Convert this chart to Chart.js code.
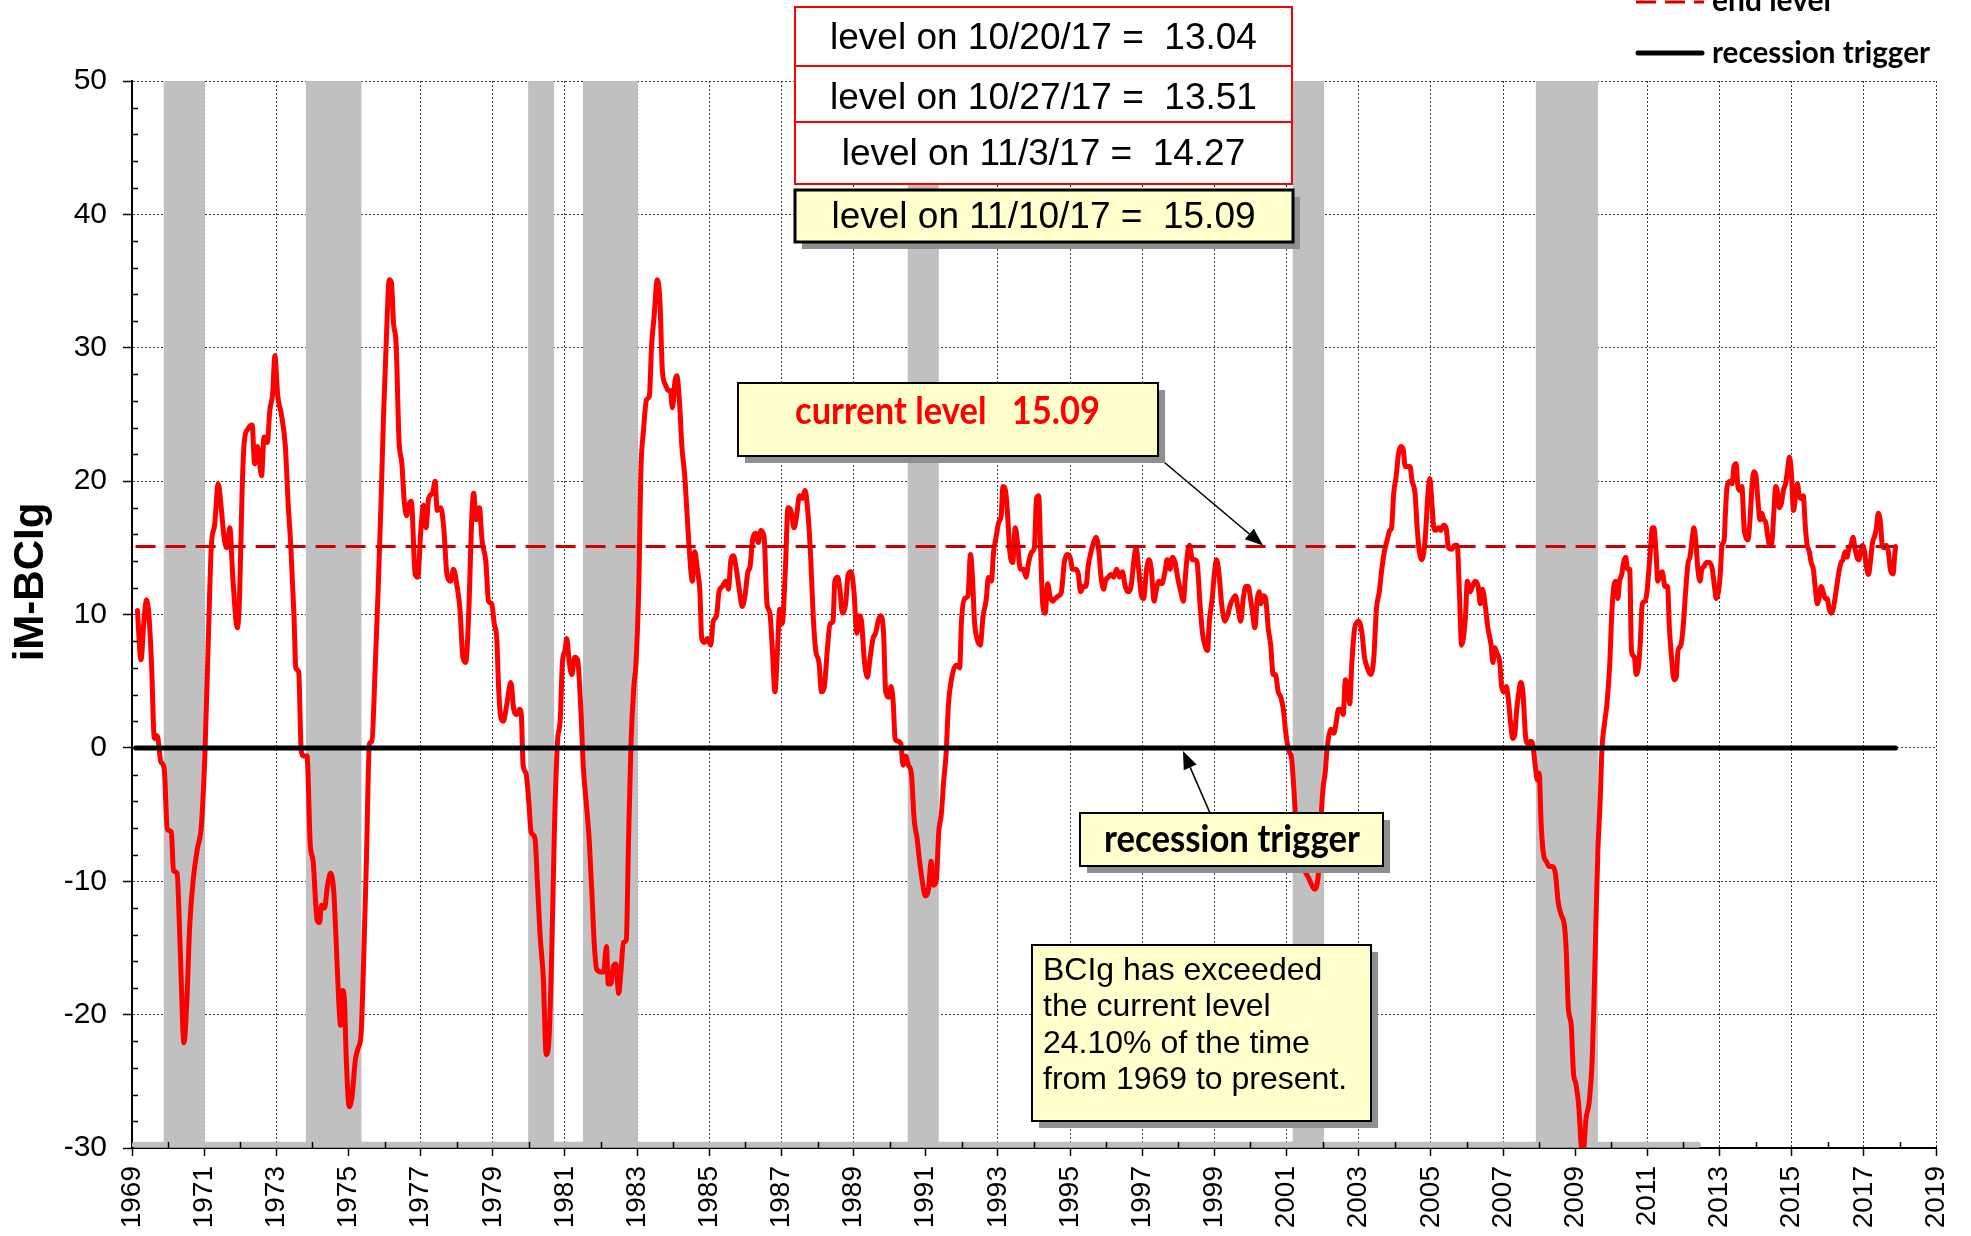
<!DOCTYPE html>
<html>
<head>
<meta charset="utf-8">
<script src="https://cdn.jsdelivr.net/npm/chart.js@4.4.1/dist/chart.umd.min.js"></script>
<style>
html,body{margin:0;padding:0;background:#fff;}
#wrap{position:relative;width:1971px;height:1236px;overflow:hidden;background:#fff;}
#c{position:absolute;left:0;top:0;}
#ov{position:absolute;left:0;top:0;pointer-events:none;}
</style>
</head>
<body>
<div id="wrap">
<canvas id="c" width="1971" height="1236"></canvas>
<svg id="ov" width="1971" height="1236" xmlns="http://www.w3.org/2000/svg">
  <!-- y axis title -->
  <text x="0" y="0" transform="translate(43,582) rotate(-90)" text-anchor="middle" font-family="Liberation Sans, Arial, sans-serif" font-weight="bold" font-size="42" fill="#000">iM-BCIg</text>

  <!-- legend -->
  <line x1="1636" y1="2" x2="1704" y2="2" stroke="#d00000" stroke-width="3" stroke-dasharray="20 9"/>
  <text x="1712" y="11" font-family="Lato, sans-serif" font-weight="bold" font-size="31" fill="#000" textLength="119" lengthAdjust="spacingAndGlyphs">end level</text>
  <line x1="1638" y1="53" x2="1702" y2="53" stroke="#000" stroke-width="5" stroke-linecap="round"/>
  <text x="1712" y="63" font-family="Lato, sans-serif" font-weight="bold" font-size="31" fill="#000" textLength="218" lengthAdjust="spacingAndGlyphs">recession trigger</text>

  <!-- weekly level boxes -->
  <rect x="795" y="7" width="497" height="59" fill="#fff" stroke="#ff0000" stroke-width="2"/>
  <rect x="795" y="66" width="497" height="56" fill="#fff" stroke="#ff0000" stroke-width="2"/>
  <rect x="795" y="122" width="497" height="62" fill="#fff" stroke="#ff0000" stroke-width="2"/>
  <g font-family="Liberation Sans, Arial, sans-serif" font-size="37" fill="#000" text-anchor="middle" style="white-space:pre">
    <text x="1043.5" y="49" xml:space="preserve">level on 10/20/17 =  13.04</text>
    <text x="1043.5" y="109" xml:space="preserve">level on 10/27/17 =  13.51</text>
    <text x="1043.5" y="165" xml:space="preserve">level on 11/3/17 =  14.27</text>
  </g>
  <rect x="802" y="197" width="498" height="52" fill="#8f8f8f"/>
  <rect x="795" y="190" width="498" height="52" fill="#ffffcc" stroke="#000" stroke-width="3"/>
  <text x="1043.5" y="228" xml:space="preserve" style="white-space:pre" font-family="Liberation Sans, Arial, sans-serif" font-size="37" fill="#000" text-anchor="middle">level on 11/10/17 =  15.09</text>

  <!-- current level box -->
  <rect x="745" y="390" width="420" height="73" fill="#8f8f8f"/>
  <rect x="738" y="383" width="420" height="73" fill="#ffffcc" stroke="#000" stroke-width="2"/>
  <text x="795" y="424" xml:space="preserve" style="white-space:pre" font-family="Lato, sans-serif" font-weight="bold" font-size="38" fill="#ff0000" textLength="305" lengthAdjust="spacingAndGlyphs">current level   15.09</text>

  <!-- recession trigger box -->
  <rect x="1087" y="820" width="303" height="53" fill="#8f8f8f"/>
  <rect x="1080" y="813" width="303" height="53" fill="#ffffcc" stroke="#000" stroke-width="2"/>
  <text x="1104" y="852" font-family="Lato, sans-serif" font-weight="bold" font-size="38" fill="#000" textLength="256" lengthAdjust="spacingAndGlyphs">recession trigger</text>

  <!-- BCIg box -->
  <rect x="1039" y="952" width="339" height="176" fill="#8f8f8f"/>
  <rect x="1032" y="945" width="339" height="176" fill="#ffffcc" stroke="#000" stroke-width="2"/>
  <g font-family="Liberation Sans, Arial, sans-serif" font-size="32" fill="#000">
    <text x="1043" y="980">BCIg has exceeded</text>
    <text x="1043" y="1016">the current level</text>
    <text x="1043" y="1053">24.10% of the time</text>
    <text x="1043" y="1089">from 1969 to present.</text>
  </g>
</svg>
</div>
<script>
// ---------------- DATA ----------------
const years = [
1969.15,1969.25,1969.33,1969.40,1969.47,1969.54,1969.62,1969.70,1969.80,1969.89,1969.98,1970.09,1970.15,1970.25,1970.33,1970.44,1970.52,1970.60,1970.70,1970.81,1970.92,
1971.02,1971.13,1971.20,1971.29,1971.39,1971.48,1971.55,1971.63,1971.71,1971.80,1971.92,1971.98,1972.05,1972.11,1972.21,1972.33,1972.40,1972.48,1972.59,1972.66,1972.75,1972.82,1972.90,1972.96,
1973.04,1973.14,1973.25,1973.33,1973.40,1973.49,1973.54,1973.62,1973.69,1973.75,1973.85,1973.94,1974.02,1974.13,1974.20,1974.25,1974.34,1974.41,1974.50,1974.59,1974.66,1974.73,1974.78,1974.84,1974.89,1974.94,
1975.02,1975.10,1975.19,1975.27,1975.35,1975.42,1975.50,1975.58,1975.65,1975.74,1975.82,1975.90,1975.97,1976.06,1976.13,1976.19,1976.25,1976.32,1976.40,1976.48,1976.54,1976.61,1976.67,1976.74,1976.85,1976.92,
1977.01,1977.08,1977.15,1977.22,1977.33,1977.40,1977.46,1977.56,1977.64,1977.73,1977.83,1977.91,1978.01,1978.09,1978.17,1978.25,1978.33,1978.42,1978.47,1978.54,1978.63,1978.70,1978.81,1978.88,1978.97,
1979.04,1979.11,1979.16,1979.21,1979.29,1979.39,1979.50,1979.58,1979.66,1979.74,1979.79,1979.84,1979.92,1980.00,1980.06,1980.17,1980.24,1980.31,1980.40,1980.48,1980.56,1980.64,1980.71,1980.79,1980.87,1980.93,
1981.00,1981.05,1981.12,1981.19,1981.27,1981.35,1981.44,1981.51,1981.59,1981.67,1981.75,1981.81,1981.88,1982.00,1982.07,1982.15,1982.20,1982.27,1982.34,1982.41,1982.49,1982.55,1982.62,1982.70,1982.76,1982.83,1982.91,1982.97,
1983.05,1983.10,1983.18,1983.26,1983.34,1983.40,1983.47,1983.56,1983.63,1983.70,1983.79,1983.86,1983.92,1983.98,1984.05,1984.10,1984.18,1984.24,1984.32,1984.37,1984.45,1984.53,1984.60,1984.67,1984.74,1984.79,1984.87,1984.95,
1985.04,1985.11,1985.20,1985.27,1985.36,1985.46,1985.53,1985.60,1985.67,1985.75,1985.84,1985.91,1985.99,1986.07,1986.13,1986.20,1986.28,1986.36,1986.43,1986.52,1986.60,1986.68,1986.75,1986.82,1986.89,1986.95,
1987.02,1987.11,1987.18,1987.26,1987.35,1987.42,1987.50,1987.58,1987.65,1987.74,1987.81,1987.88,1987.95,1988.04,1988.11,1988.19,1988.27,1988.35,1988.43,1988.48,1988.56,1988.62,1988.69,1988.78,1988.85,1988.93,
1989.01,1989.09,1989.15,1989.22,1989.29,1989.38,1989.46,1989.54,1989.61,1989.68,1989.75,1989.83,1989.89,1989.97,1990.04,1990.10,1990.15,1990.23,1990.31,1990.37,1990.44,1990.52,1990.60,1990.68,1990.76,1990.83,1990.92,1990.99,
1991.07,1991.15,1991.21,1991.29,1991.36,1991.43,1991.50,1991.56,1991.63,1991.71,1991.79,1991.87,1991.94,1991.99,1992.08,1992.17,1992.24,1992.30,1992.35,1992.42,1992.51,1992.59,1992.67,1992.74,1992.82,1992.88,1992.95,
1993.02,1993.09,1993.14,1993.22,1993.27,1993.33,1993.41,1993.48,1993.55,1993.62,1993.71,1993.78,1993.85,1993.94,1994.01,1994.07,1994.13,1994.18,1994.24,1994.31,1994.38,1994.44,1994.52,1994.59,1994.68,1994.76,1994.84,1994.91,
1995.00,1995.07,1995.16,1995.23,1995.29,1995.37,1995.44,1995.50,1995.58,1995.65,1995.72,1995.80,1995.85,1995.93,1995.98,1996.06,1996.13,1996.21,1996.29,1996.37,1996.45,1996.53,1996.61,1996.69,1996.77,1996.83,1996.90,1996.98,
1997.04,1997.12,1997.19,1997.25,1997.33,1997.38,1997.46,1997.54,1997.63,1997.69,1997.77,1997.84,1997.91,1997.98,1998.07,1998.14,1998.20,1998.26,1998.31,1998.39,1998.46,1998.52,1998.60,1998.67,1998.76,1998.81,1998.86,1998.94,1998.99,
1999.06,1999.13,1999.20,1999.29,1999.36,1999.45,1999.52,1999.58,1999.66,1999.73,1999.80,1999.87,1999.94,2000.01,2000.06,2000.12,2000.19,2000.24,2000.29,2000.35,2000.42,2000.49,2000.56,2000.63,2000.69,2000.77,2000.84,2000.91,2000.98,
2001.06,2001.14,2001.20,2001.28,2001.38,2001.50,2001.62,2001.72,2001.78,2001.85,2001.92,2001.97,2002.02,2002.07,2002.12,2002.23,2002.31,2002.38,2002.44,2002.52,2002.57,2002.63,2002.70,2002.75,2002.81,2002.89,
2003.00,2003.09,2003.16,2003.24,2003.33,2003.42,2003.49,2003.57,2003.64,2003.71,2003.79,2003.86,2003.91,2003.97,2004.04,2004.10,2004.16,2004.23,2004.29,2004.37,2004.42,2004.48,2004.56,2004.62,2004.68,2004.75,2004.84,2004.92,2004.97,
2005.02,2005.08,2005.13,2005.21,2005.27,2005.35,2005.42,2005.49,2005.58,2005.66,2005.73,2005.79,2005.85,2005.90,2005.96,2006.01,2006.09,2006.15,2006.23,2006.31,2006.37,2006.43,2006.51,2006.58,2006.67,2006.72,2006.77,2006.83,2006.91,2006.96,
2007.03,2007.09,2007.14,2007.22,2007.27,2007.33,2007.38,2007.44,2007.49,2007.55,2007.63,2007.69,2007.77,2007.82,2007.90,2007.95,2008.00,2008.06,2008.13,2008.20,2008.28,2008.37,2008.45,2008.53,2008.61,2008.70,2008.75,2008.81,2008.89,2008.95,
2009.02,2009.10,2009.16,2009.22,2009.30,2009.39,2009.47,2009.52,2009.58,2009.63,2009.69,2009.74,2009.82,2009.88,2009.96,2010.01,2010.07,2010.12,2010.18,2010.23,2010.29,2010.34,2010.40,2010.45,2010.51,2010.56,2010.64,2010.69,2010.75,2010.80,2010.86,2010.94,2010.99,
2011.07,2011.14,2011.18,2011.24,2011.29,2011.36,2011.41,2011.49,2011.56,2011.61,2011.67,2011.74,2011.80,2011.85,2011.93,2011.99,2012.06,2012.13,2012.18,2012.24,2012.29,2012.35,2012.40,2012.46,2012.51,2012.57,2012.64,2012.72,2012.80,2012.86,2012.91,2012.97,
2013.02,2013.07,2013.13,2013.16,2013.21,2013.29,2013.35,2013.40,2013.46,2013.51,2013.57,2013.62,2013.68,2013.73,2013.79,2013.84,2013.90,2013.95,2014.01,2014.06,2014.12,2014.17,2014.23,2014.28,2014.34,2014.39,2014.45,2014.50,2014.56,2014.61,2014.66,2014.72,2014.77,2014.83,2014.88,2014.94,2014.99,
2015.05,2015.10,2015.16,2015.21,2015.27,2015.32,2015.38,2015.43,2015.49,2015.54,2015.60,2015.65,2015.71,2015.76,2015.82,2015.87,2015.93,2015.98,2016.04,2016.09,2016.15,2016.20,2016.26,2016.31,2016.37,2016.42,2016.48,2016.53,2016.59,2016.64,2016.70,2016.75,2016.81,2016.86,2016.91,2016.96,
2017.02,2017.07,2017.13,2017.18,2017.24,2017.29,2017.35,2017.40,2017.46,2017.51,2017.57,2017.62,2017.68,2017.74,2017.81,2017.83,2017.85,2017.88
];
const bcig = [
10.3,6.6,9.5,11.1,9.9,6.4,0.7,0.9,-1.05,-1.5,-6.1,-6.3,-9.2,-9.4,-14.6,-22.1,-19.0,-13.3,-9.8,-7.6,-5.9,
-0.6,9.5,15.2,16.7,19.8,17.8,15.8,15.0,16.5,12.5,9.0,11.2,19.1,22.9,23.9,24.2,21.3,22.6,20.4,23.3,22.9,25.3,26.6,29.4,
26.4,25.0,22.6,18.2,15.2,9.9,6.0,5.7,-0.2,-0.6,-0.6,-7.2,-8.5,-12.9,-13.1,-11.8,-12.0,-10.5,-9.4,-10.7,-14.6,-19.0,-20.8,-18.2,-19.0,-23.4,
-26.9,-26.1,-23.4,-22.5,-21.4,-16.0,-8.1,0.3,0.5,6.0,11.7,18.2,24.8,31.4,35.1,34.9,31.8,30.3,23.1,21.3,18.7,17.4,18.2,18.5,13.0,12.8,
16.5,18.2,16.5,18.7,19.1,20.0,17.8,18.0,16.5,13.0,12.5,13.4,12.1,10.4,6.8,6.4,9.9,17.4,19.1,17.1,18.0,15.6,13.9,11.0,10.8,
9.3,8.2,4.6,2.5,2.0,3.3,4.9,2.9,2.5,2.9,2.5,-1.3,-1.9,-4.1,-6.3,-6.8,-10.3,-14.0,-17.3,-23.0,-21.7,-14.6,-5.9,0.3,2.2,6.4,
7.3,8.2,6.4,5.5,6.8,6.6,2.9,-1.5,-4.1,-6.8,-11.1,-14.6,-16.6,-16.8,-16.8,-14.9,-17.7,-17.7,-16.4,-16.2,-18.4,-16.8,-14.6,-14.4,-7.2,0.3,4.6,6.4,
12.5,20.4,23.9,26.1,26.4,30.1,32.3,35.1,33.6,28.3,27.2,26.8,26.8,25.5,27.5,27.9,25.7,22.6,20.4,18.2,14.7,12.5,14.7,13.4,11.7,8.2,7.9,8.2,
7.7,9.5,9.9,11.7,12.1,12.5,11.9,14.1,14.4,13.4,11.7,10.6,11.4,13.2,13.6,15.6,16.1,15.4,16.3,15.8,10.8,10.1,7.3,4.2,7.3,10.4,
9.3,13.4,18.0,17.8,16.5,17.4,18.9,18.7,19.3,17.4,14.3,9.9,7.3,6.4,4.2,4.6,7.3,9.3,9.5,12.5,12.8,11.9,10.1,10.8,13.0,13.2,
11.7,8.6,9.9,9.5,6.8,5.3,6.8,8.2,8.6,9.5,9.9,8.6,4.2,3.8,4.6,3.3,0.7,0.5,0.3,-1.3,-0.6,-1.3,-1.9,-5.4,-6.8,-8.5,-10.3,-11.1,
-10.7,-8.5,-10.3,-10.0,-6.3,-5.0,-2.4,-0.6,3.3,5.1,6.0,6.2,6.0,9.5,11.2,11.4,14.5,12.5,9.5,8.2,7.7,9.9,11.0,12.8,12.5,14.7,15.8,
16.9,17.4,19.6,19.1,17.4,14.7,13.9,16.5,15.2,13.4,13.4,12.8,13.9,14.7,15.0,18.7,18.9,15.2,10.8,10.1,12.3,11.4,11.0,11.2,11.4,11.7,13.9,14.5,
14.3,13.4,13.4,13.0,11.7,12.1,12.1,13.6,14.7,15.4,15.8,14.7,13.0,11.9,12.5,12.8,13.0,12.8,13.4,12.8,13.2,12.1,11.7,12.1,14.1,15.0,13.4,11.4,
11.2,13.4,14.1,13.4,11.0,11.7,12.5,12.3,13.2,14.1,13.4,14.3,13.9,12.8,11.7,11.0,13.0,14.7,15.2,14.1,14.1,13.9,10.8,8.6,7.5,7.3,9.5,11.2,12.8,
14.1,13.0,10.8,9.5,9.9,10.8,11.2,11.4,10.4,9.5,11.2,12.1,12.1,11.0,10.1,9.0,11.2,11.7,10.8,11.4,11.2,9.0,7.7,5.5,5.5,4.2,3.8,2.9,1.1,
-0.2,-0.8,-3.0,-6.5,-8.5,-9.2,-9.8,-10.4,-10.6,-10.2,-8.0,-4.6,-2.8,-1.9,-0.2,1.4,1.1,2.0,2.9,2.9,2.5,5.1,4.6,3.3,6.4,9.0,
9.5,8.6,6.8,6.0,5.5,6.8,10.4,11.7,13.4,14.7,15.6,16.3,16.5,19.1,20.4,22.0,22.6,22.4,21.1,21.1,21.1,20.0,19.1,16.5,14.7,14.1,15.6,19.1,20.2,
18.7,16.5,16.3,16.5,16.3,16.7,16.5,15.0,14.9,15.2,15.2,11.7,7.7,8.2,9.9,12.5,11.7,12.1,12.5,12.1,10.8,11.9,10.6,9.0,7.7,6.4,7.5,7.1,6.4,4.6,
4.2,4.6,3.8,1.6,0.7,1.1,2.9,4.2,4.9,4.2,0.7,0.3,0.5,0.3,-1.5,-2.4,-1.9,-5.9,-8.1,-8.5,-8.9,-8.9,-9.4,-11.6,-12.5,-13.3,-15.1,-19.5,-20.8,-24.3,
-25.2,-26.9,-29.6,-30.3,-27.8,-26.5,-23.4,-19.0,-12.5,-7.6,-4.1,-0.2,2.0,3.3,6.4,9.9,12.1,12.5,11.2,12.5,13.0,13.9,14.3,13.4,13.4,7.3,6.8,5.5,6.0,7.7,10.8,11.0,11.7,
14.3,16.5,16.5,14.7,12.5,13.0,13.2,12.1,12.1,9.0,6.8,5.1,5.3,7.3,7.7,9.0,11.7,13.9,14.3,15.6,16.5,15.2,13.4,12.5,13.4,13.6,13.9,13.9,13.4,12.1,11.2,11.7,
13.0,15.2,15.6,17.4,19.6,20.0,19.8,21.1,21.3,19.6,19.3,19.6,16.5,15.8,15.6,16.9,19.6,20.7,20.4,18.7,17.1,17.6,17.1,16.9,15.8,15.2,15.4,17.4,19.6,19.1,18.0,18.4,19.3,19.8,20.7,21.8,20.7,
17.8,18.7,19.8,18.9,18.7,18.9,16.5,15.2,14.7,13.9,13.4,12.1,10.8,11.2,12.1,11.7,11.2,11.2,10.4,10.1,10.4,11.2,12.3,13.2,13.9,14.1,14.7,14.3,15.0,15.2,15.8,15.0,14.3,14.1,14.7,15.2,
14.7,13.6,13.0,13.9,15.4,15.8,16.5,17.6,16.9,15.2,15.0,15.2,14.7,13.3,13.04,13.51,14.27,15.09
];
const endLevel = 15.09;
const triggerLevel = 0;
const lineStart = 1969.1, lineEnd = 2017.88;
const bandEnd = 2012.4;
const recessionStart = [1969.88, 1973.82, 1979.98, 1981.50, 1990.50, 2001.17, 2007.91];
const recessionEnd   = [1971.02, 1975.36, 1980.70, 1983.02, 1991.36, 2002.04, 2009.63];
const xTickYears = [1969,1971,1973,1975,1977,1979,1981,1983,1985,1987,1989,1991,1993,1995,1997,1999,2001,2003,2005,2007,2009,2011,2013,2015,2017,2019];
const yTickValues = [-30,-20,-10,0,10,20,30,40,50];

// ---------------- CHART ----------------
const series = years.map((t, i) => ({x: t, y: bcig[i]}));

function arrow(ctx, x0, y0, x1, y1) {
  const ang = Math.atan2(y1 - y0, x1 - x0);
  const L = 18, W = 7;
  const bx = x1 - L * Math.cos(ang), by = y1 - L * Math.sin(ang);
  ctx.beginPath();
  ctx.moveTo(x0, y0); ctx.lineTo(bx, by);
  ctx.stroke();
  ctx.beginPath();
  ctx.moveTo(x1, y1);
  ctx.lineTo(bx + W * Math.sin(ang), by - W * Math.cos(ang));
  ctx.lineTo(bx - W * Math.sin(ang), by + W * Math.cos(ang));
  ctx.closePath();
  ctx.fill();
}

const decor = {
  id: 'decor',
  beforeDatasetsDraw(chart) {
    const {ctx, chartArea: a, scales: {x, y}} = chart;
    ctx.save();
    ctx.fillStyle = '#c0c0c0';
    const bot = y.getPixelForValue(-29.6);
    for (let i = 0; i < recessionStart.length; i++) {
      const x0 = x.getPixelForValue(recessionStart[i]);
      const x1 = x.getPixelForValue(recessionEnd[i]);
      ctx.fillRect(x0, a.top, x1 - x0, bot - a.top);
    }
    ctx.restore();
  },
  afterDatasetsDraw(chart) {
    const {ctx, chartArea: a, scales: {x, y}} = chart;
    ctx.save();
    ctx.strokeStyle = '#000';
    ctx.lineWidth = 1.5;
    ctx.beginPath();
    for (let yr = 1970; yr <= 2018; yr += 2) {
      const px = Math.round(x.getPixelForValue(yr)) + 0.5;
      ctx.moveTo(px, a.bottom); ctx.lineTo(px, a.bottom - 6);
    }
    for (let v = -28; v < 50; v += 2) {
      if (v % 10 === 0) continue;
      const py = Math.round(y.getPixelForValue(v)) + 0.5;
      ctx.moveTo(a.left, py); ctx.lineTo(a.left + 6, py);
    }
    ctx.stroke();
    ctx.restore();
  },
  afterDraw(chart) {
    const {ctx, scales: {x, y}} = chart;
    ctx.save();
    ctx.strokeStyle = '#000';
    ctx.fillStyle = '#000';
    ctx.lineWidth = 1.6;
    arrow(ctx, 1158, 457, x.getPixelForValue(2000.35), y.getPixelForValue(endLevel) - 1);
    arrow(ctx, 1210, 813, x.getPixelForValue(1998.13), y.getPixelForValue(triggerLevel) + 3);
    ctx.restore();
  }
};

const axisFont = {family: '"Liberation Sans", Arial, sans-serif'};

new Chart(document.getElementById('c'), {
  type: 'line',
  data: {
    datasets: [
      {label: 'recession trigger', data: [{x: lineStart, y: triggerLevel}, {x: lineEnd, y: triggerLevel}],
       borderColor: '#000', borderWidth: 5, borderCapStyle: 'round', pointRadius: 0},
      {label: 'end level', data: [{x: lineStart, y: endLevel}, {x: lineEnd, y: endLevel}],
       borderColor: '#d00000', borderWidth: 3, borderDash: [20, 10], pointRadius: 0},
      {label: 'iM-BCIg', data: series, borderColor: '#ff0000', borderWidth: 5, pointRadius: 0,
       cubicInterpolationMode: 'monotone', borderJoinStyle: 'round', borderCapStyle: 'round'},
      {label: 'band', data: [{x: 1969.08, y: -29.75}, {x: bandEnd, y: -29.75}],
       borderColor: '#c0c0c0', borderWidth: 6, borderCapStyle: 'round', pointRadius: 0}
    ]
  },
  options: {
    responsive: false,
    animation: false,
    devicePixelRatio: 1,
    layout: {padding: {top: 81, right: 35, left: 0, bottom: 0}},
    plugins: {legend: {display: false}, tooltip: {enabled: false}, title: {display: false}},
    scales: {
      x: {
        type: 'linear', min: 1969, max: 2019,
        afterBuildTicks: s => { s.ticks = xTickYears.map(v => ({value: v})); },
        afterFit: s => { s.height = 88; s.paddingLeft = 0; s.paddingRight = 0; },
        ticks: {autoSkip: false, maxRotation: 90, minRotation: 90, padding: 10, color: '#000',
                font: {...axisFont, size: 28}, callback: v => String(v)},
        grid: {color: '#3a3a3a', lineWidth: 1, tickLength: 8, tickColor: '#000', tickWidth: 1.5},
        border: {display: true, color: '#000', width: 2, dash: [2, 2]}
      },
      y: {
        type: 'linear', min: -30, max: 50,
        afterBuildTicks: s => { s.ticks = yTickValues.map(v => ({value: v})); },
        afterFit: s => { s.width = 132; s.paddingTop = 0; s.paddingBottom = 0; },
        ticks: {autoSkip: false, padding: 16, color: '#000', font: {...axisFont, size: 30}, callback: v => String(v)},
        grid: {color: '#3a3a3a', lineWidth: 1, tickLength: 9, tickColor: '#000', tickWidth: 1.5},
        border: {display: true, color: '#000', width: 2, dash: [2, 2]}
      }
    }
  },
  plugins: [decor]
});
</script>
</body>
</html>
